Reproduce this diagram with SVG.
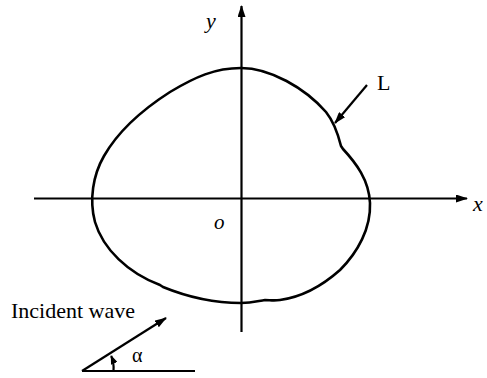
<svg xmlns="http://www.w3.org/2000/svg" width="487" height="378" viewBox="0 0 487 378">
<style>
.ln{stroke:#000;stroke-width:2.2;fill:none}
.cv{stroke:#000;stroke-width:2.6;fill:none;stroke-linejoin:round}
.t{font-family:"Liberation Serif","Times New Roman",serif;fill:#000}
.it{font-style:italic}
</style>
<defs>
<marker id="ah" viewBox="0 0 12 8" refX="11" refY="4" markerWidth="12" markerHeight="8" markerUnits="userSpaceOnUse" orient="auto">
<path d="M0,0 L12,4 L0,8 Z" fill="#000"/>
</marker>
<marker id="ahs" viewBox="0 0 9 7" refX="8" refY="3.5" markerWidth="9" markerHeight="7" markerUnits="userSpaceOnUse" orient="auto">
<path d="M0,0 L9,3.5 L0,7 Z" fill="#000"/>
</marker>
</defs>
<g id="connectors">
<line id="x-axis" class="ln" x1="34" y1="198.5" x2="467" y2="198.5" marker-end="url(#ah)"/>
<line id="y-axis" class="ln" x1="241.5" y1="332" x2="241.5" y2="6" marker-end="url(#ah)"/>
<line id="L-arrow" class="ln" x1="367" y1="85" x2="335" y2="123" marker-end="url(#ah)"/>
<line id="wave-arrow" class="ln" x1="82" y1="371" x2="166" y2="318" marker-end="url(#ah)"/>
<line id="baseline" class="ln" x1="82" y1="371" x2="195" y2="371"/>
<path id="alpha-arc" class="ln" stroke-width="1.8" d="M113.5,371 A31.5,31.5 0 0 0 111.2,356" marker-end="url(#ahs)"/>
</g>
<g id="boundary">
<path class="cv" d="M241,68 C270,68 305,88 326,112 C334,122 338,134 341,146 L343,149 C356,163 369,180 370,203 C371,228 358,252 340,270 C322,286 302,297 280,300 C273,301 270,300 265,300 C258,301 252,303 241,303 C210,303 185,296 163,287 L160,285 C128,273 103,249 95,222 C89,200 93,175 104,156 C120,128 145,108 170,92 C195,77 215,68 241,68 Z"/>
</g>
<g id="labels">
<text class="t it" x="206" y="28" font-size="22">y</text>
<text class="t it" x="473" y="211" font-size="22">x</text>
<text class="t it" x="214" y="229" font-size="21">o</text>
<text class="t" x="377" y="90" font-size="22">L</text>
<text class="t" x="11" y="318" font-size="22">Incident wave</text>
<text class="t" x="132" y="362" font-size="20">α</text>
</g>
</svg>
